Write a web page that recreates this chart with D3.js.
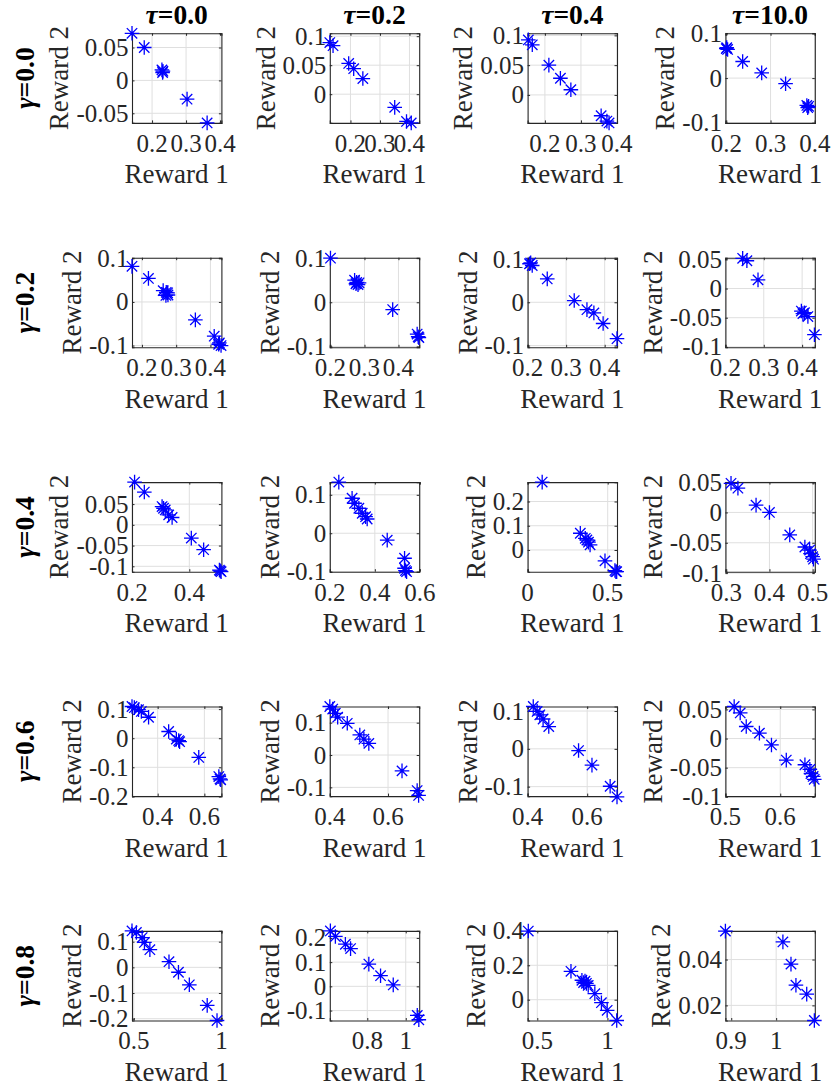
<!DOCTYPE html>
<html>
<head>
<meta charset="utf-8">
<script src="https://cdn.jsdelivr.net/npm/d3@7"></script>
<style>
  body { margin: 0; background: #fff; }
  svg { display: block; }
  text { font-family: "Liberation Serif", "Times New Roman", "DejaVu Serif", serif; }
</style>
</head>
<body>
<svg id="chart" width="833" height="1089"></svg>
<script>
// Grid of scatter plots: rows are γ values, columns are τ values.
const gammaValues = ["0.0", "0.2", "0.4", "0.6", "0.8"];
const tauValues = ["0.0", "0.2", "0.4", "10.0"];

// Reward 1 of each point, per panel [γ row][τ column]
const reward1 = [
  [
    [0.141, 0.177, 0.229, 0.232, 0.231, 0.303, 0.362],
    [0.130, 0.141, 0.194, 0.211, 0.242, 0.350, 0.390, 0.406],
    [0.154, 0.165, 0.211, 0.243, 0.272, 0.356, 0.372, 0.378],
    [0.200, 0.201, 0.203, 0.237, 0.280, 0.334, 0.382, 0.384, 0.386]
  ],
  [
    [0.171, 0.219, 0.262, 0.271, 0.276, 0.270, 0.275, 0.356, 0.411, 0.426, 0.431, 0.424],
    [0.200, 0.271, 0.277, 0.281, 0.275, 0.284, 0.383, 0.455, 0.458, 0.460],
    [0.208, 0.212, 0.205, 0.251, 0.321, 0.354, 0.372, 0.396, 0.432],
    [0.245, 0.256, 0.285, 0.398, 0.406, 0.415, 0.402, 0.432]
  ],
  [
    [0.209, 0.243, 0.305, 0.316, 0.310, 0.328, 0.340, 0.407, 0.450, 0.508, 0.511, 0.505],
    [0.240, 0.299, 0.310, 0.329, 0.344, 0.359, 0.366, 0.455, 0.532, 0.532, 0.541, 0.536],
    [0.091, 0.329, 0.360, 0.370, 0.380, 0.390, 0.483, 0.551, 0.545, 0.556],
    [0.311, 0.327, 0.369, 0.400, 0.447, 0.482, 0.493, 0.495, 0.500, 0.502]
  ],
  [
    [0.290, 0.300, 0.318, 0.330, 0.361, 0.447, 0.480, 0.494, 0.490, 0.576, 0.662, 0.667, 0.670],
    [0.400, 0.410, 0.419, 0.427, 0.460, 0.503, 0.517, 0.534, 0.648, 0.700, 0.705],
    [0.419, 0.432, 0.441, 0.452, 0.471, 0.571, 0.616, 0.677, 0.700],
    [0.516, 0.527, 0.538, 0.562, 0.584, 0.611, 0.645, 0.654, 0.656, 0.660, 0.662]
  ],
  [
    [0.490, 0.515, 0.548, 0.561, 0.592, 0.701, 0.755, 0.817, 0.919, 0.975],
    [0.608, 0.634, 0.686, 0.713, 0.808, 0.869, 0.935, 1.060, 1.068],
    [0.436, 0.740, 0.818, 0.830, 0.840, 0.850, 0.863, 0.910, 0.957, 0.998, 1.066],
    [0.887, 1.015, 1.033, 1.044, 1.068, 1.085]
  ]
];

// Reward 2 of each point, same layout as reward1
const reward2 = [
  [
    [0.0716, 0.050, 0.016, 0.014, 0.012, -0.0285, -0.0646],
    [0.089, 0.0836, 0.053, 0.044, 0.027, -0.0227, -0.047, -0.0495],
    [0.0924, 0.0842, 0.050, 0.028, 0.0087, -0.035, -0.044, -0.047],
    [0.0656, 0.068, 0.064, 0.037, 0.0116, -0.0125, -0.061, -0.066, -0.063]
  ],
  [
    [0.0817, 0.054, 0.026, 0.022, 0.016, 0.015, 0.021, -0.041, -0.0785, -0.094, -0.100, -0.097],
    [0.100, 0.050, 0.045, 0.040, 0.042, 0.044, -0.0166, -0.072, -0.078, -0.080],
    [0.091, 0.085, 0.089, 0.054, 0.004, -0.017, -0.0245, -0.049, -0.084],
    [0.0517, 0.0476, 0.0148, -0.0386, -0.0414, -0.048, -0.043, -0.0791]
  ],
  [
    [0.103, 0.079, 0.044, 0.036, 0.040, 0.024, 0.0177, -0.032, -0.060, -0.111, -0.113, -0.109],
    [0.133, 0.091, 0.078, 0.065, 0.052, 0.043, 0.037, -0.018, -0.065, -0.091, -0.100, -0.097],
    [0.280, 0.069, 0.048, 0.041, 0.032, 0.021, -0.045, -0.0897, -0.085, -0.0897],
    [0.048, 0.040, 0.012, 0.000, -0.037, -0.057, -0.062, -0.068, -0.073, -0.077]
  ],
  [
    [0.109, 0.105, 0.098, 0.092, 0.072, 0.023, -0.003, -0.012, -0.008, -0.066, -0.132, -0.140, -0.143],
    [0.150, 0.142, 0.129, 0.117, 0.098, 0.062, 0.049, 0.036, -0.049, -0.110, -0.125],
    [0.112, 0.099, 0.090, 0.079, 0.059, -0.0045, -0.043, -0.099, -0.127],
    [0.055, 0.044, 0.0207, 0.0093, -0.011, -0.037, -0.045, -0.053, -0.060, -0.065, -0.070]
  ],
  [
    [0.142, 0.136, 0.116, 0.097, 0.069, 0.022, -0.019, -0.068, -0.148, -0.207],
    [0.229, 0.206, 0.174, 0.156, 0.092, 0.044, 0.006, -0.120, -0.138],
    [0.399, 0.165, 0.113, 0.100, 0.108, 0.095, 0.083, 0.035, -0.0175, -0.062, -0.121],
    [0.0524, 0.0477, 0.0380, 0.0288, 0.0249, 0.0134]
  ]
];

// Axis limits of each panel
const xLimits = [
  [[0.141, 0.404], [0.130, 0.433], [0.152, 0.400], [0.198, 0.400]],
  [[0.171, 0.432], [0.198, 0.461], [0.200, 0.432], [0.200, 0.433]],
  [[0.200, 0.512], [0.200, 0.597], [0.000, 0.558], [0.298, 0.505]],
  [[0.290, 0.673], [0.400, 0.707], [0.400, 0.700], [0.500, 0.663]],
  [[0.490, 1.000], [0.605, 1.070], [0.431, 1.068], [0.887, 1.086]]
];
const yLimits = [
  [[-0.0646, 0.0716], [-0.0495, 0.105], [-0.047, 0.1035], [-0.100, 0.100]],
  [[-0.104, 0.1015], [-0.102, 0.101], [-0.104, 0.103], [-0.1007, 0.0528]],
  [[-0.113, 0.103], [-0.100, 0.133], [-0.0897, 0.280], [-0.0977, 0.050]],
  [[-0.199, 0.109], [-0.127, 0.150], [-0.125, 0.112], [-0.0988, 0.055]],
  [[-0.207, 0.142], [-0.141, 0.229], [-0.121, 0.400], [0.0134, 0.0525]]
];

// Tick values of each panel
const xTicks = [
  [[0.2, 0.3, 0.4], [0.2, 0.3, 0.4], [0.2, 0.3, 0.4], [0.2, 0.3, 0.4]],
  [[0.2, 0.3, 0.4], [0.2, 0.3, 0.4], [0.2, 0.3, 0.4], [0.2, 0.3, 0.4]],
  [[0.2, 0.4], [0.2, 0.4, 0.6], [0, 0.5], [0.3, 0.4, 0.5]],
  [[0.4, 0.6], [0.4, 0.6], [0.4, 0.6], [0.5, 0.6]],
  [[0.5, 1], [0.8, 1], [0.5, 1], [0.9, 1]]
];
const yTicks = [
  [[-0.05, 0, 0.05], [0, 0.05, 0.1], [0, 0.05, 0.1], [-0.1, 0, 0.1]],
  [[-0.1, 0, 0.1], [-0.1, 0, 0.1], [-0.1, 0, 0.1], [-0.1, -0.05, 0, 0.05]],
  [[-0.1, -0.05, 0, 0.05], [-0.1, 0, 0.1], [0, 0.1, 0.2], [-0.1, -0.05, 0, 0.05]],
  [[-0.2, -0.1, 0, 0.1], [-0.1, 0, 0.1], [-0.1, 0, 0.1], [-0.1, -0.05, 0, 0.05]],
  [[-0.2, -0.1, 0, 0.1], [-0.1, 0, 0.1, 0.2], [0, 0.2, 0.4], [0.02, 0.04]]
];

// ---- layout ----
const colLeft0 = 132, colStep = 197.8;
const rowTop0 = 33.3, rowStep = 224.4;
const boxW = 89.4, boxH = 89.6;
const tickFont = 25, labelFont = 27, titleFont = 27.5;
const inkColor = "#262626";
const gridColor = "#dfdfdf";
const markerColor = "#0000ff";
const tickLen = 2.5;

const fmt = v => {
  if (Math.abs(v) < 1e-12) return "0";
  return String(+v.toFixed(4));
};

const svg = d3.select("#chart");

// asterisk marker ('+' overlaid with 'x')
const armP = 7.3, armX = 5.2;
const starPath = `M${-armP},0H${armP}M0,${-armP}V${armP}` +
  `M${-armX},${-armX}L${armX},${armX}M${-armX},${armX}L${armX},${-armX}`;

gammaValues.forEach((g, r) => {
  tauValues.forEach((t, c) => {
    const left = colLeft0 + c * colStep;
    const top = rowTop0 + r * rowStep;
    const panel = svg.append("g").attr("transform", `translate(${left},${top})`);

    const x = d3.scaleLinear().domain(xLimits[r][c]).range([0, boxW]);
    const y = d3.scaleLinear().domain(yLimits[r][c]).range([boxH, 0]);
    const xt = xTicks[r][c], yt = yTicks[r][c];

    // grid
    panel.append("g").selectAll("line").data(xt).join("line")
      .attr("x1", d => x(d)).attr("x2", d => x(d))
      .attr("y1", 0).attr("y2", boxH)
      .attr("stroke", gridColor).attr("stroke-width", 1);
    panel.append("g").selectAll("line").data(yt).join("line")
      .attr("y1", d => y(d)).attr("y2", d => y(d))
      .attr("x1", 0).attr("x2", boxW)
      .attr("stroke", gridColor).attr("stroke-width", 1);

    // axes: ticks drawn inward on all four sides
    const axB = d3.axisBottom(x).tickValues(xt).tickSize(-tickLen).tickFormat("");
    const axT = d3.axisTop(x).tickValues(xt).tickSize(-tickLen).tickFormat("");
    const axL = d3.axisLeft(y).tickValues(yt).tickSize(-tickLen).tickFormat("");
    const axR = d3.axisRight(y).tickValues(yt).tickSize(-tickLen).tickFormat("");
    const axes = [
      [axB, `translate(0,${boxH})`], [axT, "translate(0,0)"],
      [axL, "translate(0,0)"], [axR, `translate(${boxW},0)`]
    ];
    axes.forEach(([ax, tr]) => {
      const gAx = panel.append("g").attr("transform", tr).call(ax);
      gAx.select(".domain").attr("stroke", inkColor).attr("stroke-width", 1.1);
      gAx.selectAll(".tick line").attr("stroke", inkColor).attr("stroke-width", 1);
    });

    // tick labels
    panel.append("g").selectAll("text").data(xt).join("text")
      .attr("x", d => x(d)).attr("y", boxH + 29)
      .attr("text-anchor", "middle")
      .attr("font-size", tickFont).attr("fill", inkColor)
      .text(fmt);
    const yLab = panel.append("g").selectAll("text").data(yt).join("text")
      .attr("x", -3.5).attr("y", d => y(d)).attr("dy", "0.34em")
      .attr("text-anchor", "end")
      .attr("font-size", tickFont).attr("fill", inkColor)
      .text(fmt);

    let maxW = 0;
    yLab.each(function () { maxW = Math.max(maxW, this.getComputedTextLength()); });

    // axis labels
    panel.append("text")
      .attr("x", boxW / 2).attr("y", boxH + 60.5)
      .attr("text-anchor", "middle")
      .attr("font-size", labelFont).attr("fill", inkColor)
      .text("Reward 1");
    panel.append("text")
      .attr("transform", `translate(${-3.5 - maxW - 8},${boxH / 2}) rotate(-90)`)
      .attr("text-anchor", "middle")
      .attr("font-size", labelFont).attr("fill", inkColor)
      .text("Reward 2");

    // column title
    if (r === 0) {
      const ti = panel.append("text")
        .attr("x", boxW / 2).attr("y", -9.3)
        .attr("text-anchor", "middle")
        .attr("font-size", titleFont).attr("font-weight", "bold").attr("fill", "#000");
      ti.append("tspan").attr("font-style", "italic").text("τ");
      ti.append("tspan").text("=" + t);
    }

    // markers
    const pts = reward1[r][c].map((v, i) => [v, reward2[r][c][i]]);
    panel.append("g").selectAll("path").data(pts).join("path")
      .attr("transform", d => `translate(${x(d[0])},${y(d[1])})`)
      .attr("d", starPath)
      .attr("fill", "none")
      .attr("stroke", markerColor).attr("stroke-width", 1.3);
  });

  // row label
  const top = rowTop0 + r * rowStep;
  const rl = svg.append("text")
    .attr("transform", `translate(34,${top + boxH / 2}) rotate(-90)`)
    .attr("text-anchor", "middle")
    .attr("font-size", titleFont).attr("font-weight", "bold").attr("fill", "#000");
  rl.append("tspan").attr("font-style", "italic").text("γ");
  rl.append("tspan").text("=" + g);
});
</script>
</body>
</html>
